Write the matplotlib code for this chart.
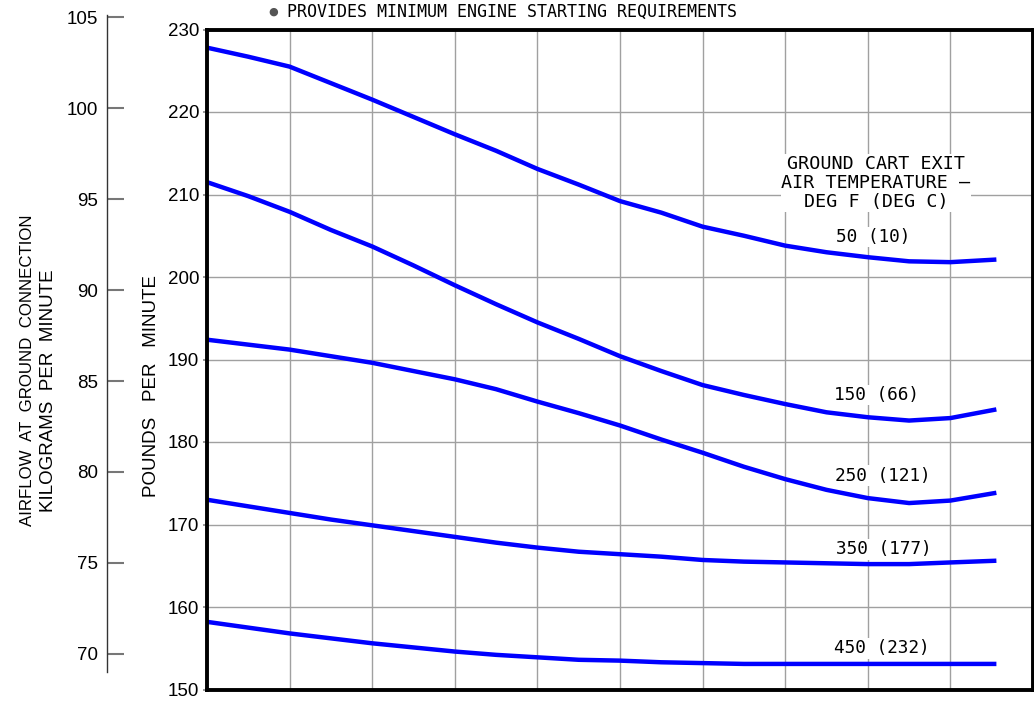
import matplotlib
matplotlib.use('Agg')
import matplotlib.pyplot as plt
from matplotlib import font_manager as fm

W, H = 1034, 702


def pick(names):
    for n in names:
        try:
            fm.findfont(fm.FontProperties(family=n), fallback_to_default=False)
            return n
        except Exception:
            pass
    return 'DejaVu Sans'


SANS = pick(['Liberation Sans', 'Arial', 'DejaVu Sans'])
CAD = pick(['DejaVu Sans Mono', 'Liberation Sans'])

# ---------------- data (pounds per minute) ----------------
x_pos = [0, 0.5, 1, 1.5, 2, 2.5, 3, 3.5, 4, 4.5, 5, 5.5, 6, 6.5, 7, 7.5, 8, 8.5, 9, 9.53]

flow_50F = [227.8, 226.7, 225.5, 223.5, 221.5, 219.4, 217.3, 215.3, 213.1, 211.2,
            209.2, 207.8, 206.1, 205.0, 203.8, 203.0, 202.4, 201.9, 201.8, 202.1]
flow_150F = [211.5, 209.8, 207.9, 205.7, 203.7, 201.4, 199.0, 196.7, 194.5, 192.5,
             190.4, 188.6, 186.9, 185.7, 184.6, 183.6, 183.0, 182.6, 182.9, 183.9]
flow_250F = [192.4, 191.8, 191.2, 190.4, 189.6, 188.6, 187.6, 186.4, 184.9, 183.5,
             182.0, 180.3, 178.7, 177.0, 175.5, 174.2, 173.2, 172.6, 172.9, 173.8]
flow_350F = [173.0, 172.2, 171.4, 170.6, 169.9, 169.2, 168.5, 167.8, 167.2, 166.7,
             166.4, 166.1, 165.7, 165.5, 165.4, 165.3, 165.2, 165.2, 165.4, 165.6]
flow_450F = [158.2, 157.5, 156.8, 156.2, 155.6, 155.1, 154.6, 154.2, 153.9, 153.6,
             153.5, 153.3, 153.2, 153.1, 153.1, 153.1, 153.1, 153.1, 153.1, 153.1]

curve_labels = ['50 (10)', '150 (66)', '250 (121)', '350 (177)', '450 (232)']
label_x = [8.07, 8.10, 8.18, 8.19, 8.17]
label_y = [204.85, 185.7, 175.9, 167.0, 155.0]

lb_ticks = [150, 160, 170, 180, 190, 200, 210, 220, 230]
kg_ticks = [70, 75, 80, 85, 90, 95, 100, 105]
LB_PER_KG = 2.20462

# ---------------- figure ----------------
fig = plt.figure(figsize=(W / 100, H / 100), dpi=100)

ax_l, ax_r, ax_t, ax_b = 207, 1033, 29.5, 689.5
ax = fig.add_axes([ax_l / W, (H - ax_b) / H, (ax_r - ax_l) / W, (ax_b - ax_t) / H])
ax.set_xlim(0, 10)
ax.set_ylim(150, 230)
ax.set_xticks(range(1, 10))
ax.set_xticklabels([])
ax.tick_params(axis='x', length=0)
ax.set_yticks(lb_ticks)
ax.set_yticklabels([str(v) for v in lb_ticks], fontfamily=SANS, fontsize=13.5)
ax.tick_params(axis='y', length=3, width=1.2, color='#888888', pad=2.5)
ax.grid(True, color='#a0a0a0', lw=1.0)
ax.set_axisbelow(True)
for s in ax.spines.values():
    s.set_linewidth(2.8)
    s.set_color('black')
    s.set_zorder(5)

for ys in [flow_50F, flow_150F, flow_250F, flow_350F, flow_450F]:
    ax.plot(x_pos, ys, color='#0000ff', lw=3.2, zorder=3, solid_joinstyle='round')

for t, lx, ly in zip(curve_labels, label_x, label_y):
    ax.text(lx, ly, t, ha='center', va='center', fontfamily=CAD, fontsize=12.8,
            bbox=dict(facecolor='white', edgecolor='none', pad=1.0), zorder=4)

ax.text(8.10, 211.4, 'GROUND CART EXIT\nAIR TEMPERATURE \u2013\nDEG F (DEG C)',
        ha='center', va='center', multialignment='center', fontfamily=CAD,
        fontsize=13.2, linespacing=1.08,
        bbox=dict(facecolor='white', edgecolor='none', pad=0.5), zorder=4)

# ---------------- kilogram axis ----------------
k_top = 10
lb_top = 150 + (ax_b - k_top) / ((ax_b - ax_t) / 80.0)
ax2 = fig.add_axes([107 / W, (H - ax_b) / H, 0.001, (ax_b - k_top) / H])
ax2.set_ylim(150 / LB_PER_KG, lb_top / LB_PER_KG)
ax2.patch.set_visible(False)
for name in ['top', 'right', 'bottom']:
    ax2.spines[name].set_visible(False)
ax2.spines['left'].set_color('#333333')
ax2.spines['left'].set_linewidth(1.0)
ax2.spines['left'].set_bounds(69.0, 105.1)
ax2.set_xticks([])
ax2.set_yticks(kg_ticks)
ax2.set_yticklabels([str(v) for v in kg_ticks], fontfamily=SANS, fontsize=13.5)
ax2.tick_params(axis='y', direction='in', length=12.3, width=1.5, color='#777777', pad=6.5)

# ---------------- texts ----------------
def fx(px):
    return px / W


def fy(py):
    return 1 - py / H


fig.text(fx(28), fy(370), 'AIRFLOW  AT  GROUND  CONNECTION', rotation=90,
         ha='center', va='center', fontfamily=SANS, fontsize=12.2)
fig.text(fx(49), fy(391), 'KILOGRAMS  PER  MINUTE', rotation=90,
         ha='center', va='center', fontfamily=SANS, fontsize=13.5)
fig.text(fx(152), fy(386), 'POUNDS   PER   MINUTE', rotation=90,
         ha='center', va='center', fontfamily=SANS, fontsize=13.5)

fig.text(fx(273), fy(12), '\u25cf', ha='center', va='center', color='#555555',
         fontsize=8, fontfamily='DejaVu Sans')
fig.text(fx(287), fy(12), 'PROVIDES MINIMUM ENGINE STARTING REQUIREMENTS',
         ha='left', va='center', fontfamily=CAD, fontsize=12.0)

fig.savefig('out.png', dpi=100)
